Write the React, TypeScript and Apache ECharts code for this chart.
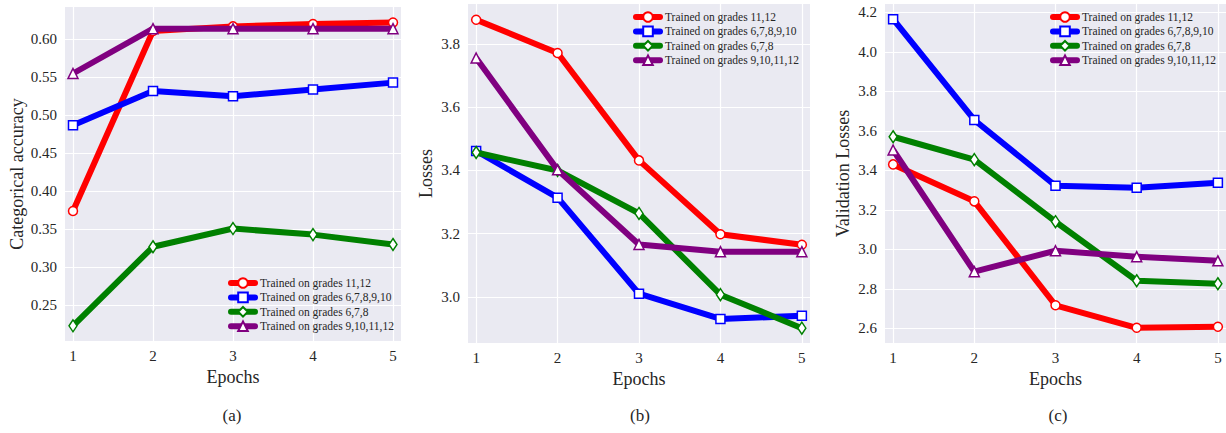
import React, { useEffect, useRef } from "react";
import * as echarts from "echarts";

const epochs = [1, 2, 3, 4, 5];
const seriesNames = [
  "Trained on grades 11,12",
  "Trained on grades 6,7,8,9,10",
  "Trained on grades 6,7,8",
  "Trained on grades 9,10,11,12",
];
const accRed = [0.374, 0.611, 0.617, 0.62, 0.622];
const accBlue = [0.487, 0.532, 0.525, 0.534, 0.543];
const accGreen = [0.223, 0.327, 0.351, 0.343, 0.33];
const accPurple = [0.555, 0.614, 0.614, 0.614, 0.614];
const lossRed = [3.877, 3.772, 3.432, 3.198, 3.165];
const lossBlue = [3.462, 3.314, 3.01, 2.93, 2.94];
const lossGreen = [3.457, 3.4, 3.264, 3.007, 2.901];
const lossPurple = [3.756, 3.402, 3.166, 3.143, 3.143];
const valRed = [3.43, 3.243, 2.717, 2.603, 2.608];
const valBlue = [4.165, 3.655, 3.322, 3.312, 3.337];
const valGreen = [3.57, 3.454, 3.14, 2.841, 2.826];
const valPurple = [3.503, 2.887, 2.993, 2.963, 2.942];
const captions = ["(a)", "(b)", "(c)"];
const yTitles = ["Categorical accuracy", "Losses", "Validation Losses"];

const colors = ["#ff0000", "#0000ff", "#008000", "#800080"];
const symbols = ["circle", "rect", "diamond", "triangle"];
const symbolSizes: any[] = [9, 9, [8, 12], 10];
const FONT = "'Liberation Serif', 'DejaVu Serif', serif";
const TXT = "#262626";

export default function App() {
  const ref = useRef<HTMLDivElement>(null);
  useEffect(() => {
    if (!ref.current) return;
    const chart = echarts.init(ref.current, undefined, { renderer: "svg" });
    const panels = [
      [accRed, accBlue, accGreen, accPurple],
      [lossRed, lossBlue, lossGreen, lossPurple],
      [valRed, valBlue, valGreen, valPurple],
    ];
    const grids = [
      { left: 65, top: 7, width: 336, height: 334 },
      { left: 468, top: 4, width: 342, height: 339 },
      { left: 885, top: 4, width: 341, height: 339 },
    ];
    const yRanges = [
      { min: 0.203, max: 0.6425, step: 0.05, dec: 2, gap: 39 },
      { min: 2.854, max: 3.927, step: 0.2, dec: 1, gap: 33 },
      { min: 2.526, max: 4.242, step: 0.2, dec: 1, gap: 33 },
    ];
    const isMult = (v: number, s: number) => Math.abs(v / s - Math.round(v / s)) < 1e-6;
    const xAxes = grids.map((g, i) => ({
      type: "value",
      gridIndex: i,
      min: 0.9,
      max: 5.1,
      minInterval: 1,
      maxInterval: 1,
      name: "Epochs",
      nameLocation: "middle",
      nameGap: 24,
      nameTextStyle: { fontFamily: FONT, fontSize: 18, color: TXT, verticalAlign: "top" },
      axisLine: { show: false },
      axisTick: { show: false },
      axisLabel: {
        fontFamily: FONT,
        fontSize: 15,
        color: TXT,
        margin: 7,
        formatter: (v: number) => (isMult(v, 1) ? String(Math.round(v)) : ""),
      },
      splitLine: { show: true, showMinLine: false, showMaxLine: false, lineStyle: { color: "#ffffff", width: 1.2 } },
    }));
    const yAxes = yRanges.map((r, i) => ({
      type: "value",
      gridIndex: i,
      min: r.min,
      max: r.max,
      minInterval: r.step,
      maxInterval: r.step,
      name: yTitles[i],
      nameLocation: "middle",
      nameGap: r.gap,
      nameTextStyle: { fontFamily: FONT, fontSize: 18, color: TXT },
      axisLine: { show: false },
      axisTick: { show: false },
      axisLabel: {
        fontFamily: FONT,
        fontSize: 15,
        color: TXT,
        margin: 8,
        formatter: (v: number) => (isMult(v, r.step) ? v.toFixed(r.dec) : ""),
      },
      splitLine: { show: true, showMinLine: false, showMaxLine: false, lineStyle: { color: "#ffffff", width: 1.2 } },
    }));
    const series: any[] = [];
    panels.forEach((vals, p) => {
      vals.forEach((arr, k) => {
        series.push({
          type: "line",
          name: seriesNames[k],
          xAxisIndex: p,
          yAxisIndex: p,
          data: epochs.map((e, j) => [e, arr[j]]),
          symbol: symbols[k],
          symbolSize: symbolSizes[k],
          showSymbol: true,
          lineStyle: { color: colors[k], width: 6, join: "round" },
          itemStyle: { color: "#ffffff", borderColor: colors[k], borderWidth: 1.5 },
          emphasis: { disabled: true },
          z: 2 + k,
        });
      });
    });
    const legendPos = [
      { left: 228, top: 277 },
      { left: 633, top: 11 },
      { left: 1050, top: 11 },
    ];
    const legends = legendPos.map((lp) => ({
      ...lp,
      orient: "vertical",
      data: seriesNames,
      itemWidth: 24,
      itemHeight: 12,
      itemGap: 2.4,
      selectedMode: false,
      padding: 0,
      lineStyle: { width: 6, cap: "round" },
      textStyle: { fontFamily: FONT, fontSize: 11.5, color: TXT, padding: [0, 0, 0, 0] },
    }));
    const capX = [232, 640, 1058];
    const graphics = captions.map((c, i) => ({
      type: "text",
      x: capX[i],
      y: 415,
      style: {
        text: c,
        fontFamily: FONT,
        fontSize: 17,
        fill: TXT,
        textAlign: "center",
        textVerticalAlign: "middle",
      },
    }));
    chart.setOption({
      animation: false,
      backgroundColor: "#ffffff",
      grid: grids.map((g) => ({
        ...g,
        show: true,
        backgroundColor: "#eaeaf2",
        borderWidth: 0,
        containLabel: false,
        outerBoundsMode: "none",
      })),
      xAxis: xAxes,
      yAxis: yAxes,
      legend: legends,
      series,
      graphic: graphics,
    } as any);
    return () => chart.dispose();
  }, []);
  return (
    <div
      ref={ref}
      style={{ position: "fixed", left: 0, top: 0, width: 1226, height: 433, background: "#fff" }}
    />
  );
}
